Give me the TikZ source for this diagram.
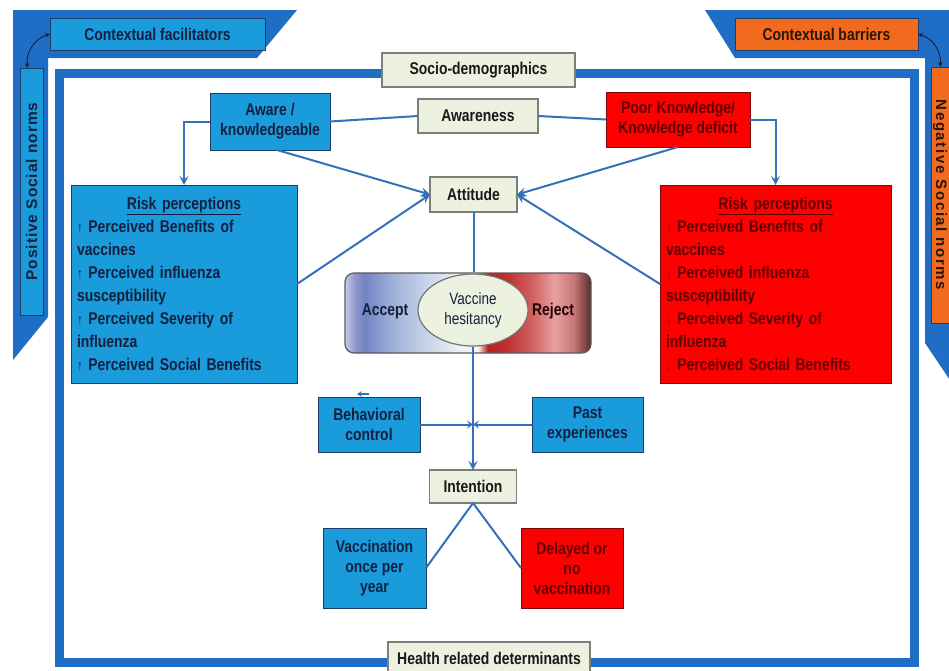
\documentclass[tikz,border=0pt]{standalone}
\usepackage{fontspec}
\setmainfont{Liberation Sans}
\newfontfamily\cond{Liberation Sans}[FakeStretch=0.82]
\newfontfamily\posfont{Liberation Sans}[LetterSpace=6]
\newfontfamily\negfont{Liberation Sans}[LetterSpace=11]
\usetikzlibrary{arrows.meta,calc,shapes.geometric}
\definecolor{frameblue}{HTML}{1F6DC5}
\definecolor{boxblue}{HTML}{1A9BDB}
\definecolor{boxedge}{HTML}{1D3C68}
\definecolor{lgreen}{HTML}{ECF1E0}
\definecolor{lgedge}{HTML}{7A7F78}
\definecolor{boxred}{HTML}{FF0000}
\definecolor{rededge}{HTML}{7A0A0A}
\definecolor{redtxt}{HTML}{5E0000}
\definecolor{redarr}{HTML}{B00000}
\definecolor{orangebox}{HTML}{F26A1E}
\definecolor{orangetxt}{HTML}{2B1606}
\definecolor{navy}{HTML}{13213F}
\definecolor{linkblue}{HTML}{3471B8}
\definecolor{ga}{HTML}{C5CCE6}
\definecolor{gb}{HTML}{8F98CC}
\definecolor{gc}{HTML}{7382C2}
\definecolor{gd}{HTML}{8A9CD0}
\definecolor{ge}{HTML}{A8B8DC}
\definecolor{gf}{HTML}{CBD6EA}
\definecolor{gg}{HTML}{ECEFF6}
\definecolor{gh}{HTML}{F8F4F4}
\definecolor{gi}{HTML}{B82020}
\definecolor{gj}{HTML}{C03030}
\definecolor{gk}{HTML}{D06060}
\definecolor{gl}{HTML}{E6A0A0}
\definecolor{gm}{HTML}{C87878}
\definecolor{gn}{HTML}{5A2A2A}
\pgfdeclarehorizontalshading{vhshade}{100bp}{color(0bp)=(ga); color(25bp)=(ga); color(27bp)=(gb); color(29bp)=(gc); color(32bp)=(gd); color(36bp)=(ge); color(42bp)=(gf); color(48bp)=(gg); color(52bp)=(gh); color(54bp)=(gi); color(58bp)=(gj); color(63bp)=(gk); color(67.5bp)=(gl); color(71.5bp)=(gm); color(75bp)=(gn); color(100bp)=(gn)}
\newcommand\uparr{{\fontsize{14}{14}\selectfont\mdseries\color{navy}↑}}
\newcommand\downarr{{\fontsize{14}{14}\selectfont\mdseries\color{redarr}↓}}
\begin{document}
\begin{tikzpicture}[x=1pt,y=-1pt,
  boxfont/.style={font=\cond\bfseries\fontsize{17}{20}\selectfont},
  basebox/.style={boxfont, inner sep=0pt, outer sep=0pt, align=center, line width=0.8pt},
  bluebox/.style={basebox, draw=boxedge, fill=boxblue, text=navy},
  redbox/.style={basebox, draw=rededge, fill=boxred, text=redtxt},
  orangebox/.style={basebox, draw=boxedge, fill=orangebox, text=orangetxt},
  greenbox/.style={basebox, draw=lgedge, fill=lgreen, text=black!90, line width=1.2pt},
  riskbox/.style={font=\cond\bfseries\fontsize{17}{23}\selectfont, inner xsep=6pt, inner ysep=0pt, outer sep=0pt, align=left, line width=0.8pt, minimum height=198pt},
  link/.style={draw=linkblue, line width=2pt},
  arr/.style={link, -{Stealth[length=9pt,width=9pt,inset=3.5pt]}},
  smallarr/.style={link, line width=2pt, -{Stealth[length=6pt,width=8pt,inset=2.5pt]}},
  curvy/.style={draw=navy, line width=0.9pt, {Stealth[length=5pt,width=4.5pt]}-{Stealth[length=5pt,width=4.5pt]}}
]
\useasboundingbox (0,0) rectangle (949,670);
% outer L shapes
\fill[frameblue] (13,10) -- (297,10) -- (257,58) -- (48,58) -- (48,317) -- (13,360) -- cycle;
\fill[frameblue] (705,10) -- (960,10) -- (960,395) -- (925,343) -- (925,58) -- (735,58) -- cycle;
\node[bluebox, minimum width=215pt, minimum height=32pt] (fac) at (157.5,34) {Contextual facilitators};
\node[bluebox, minimum width=247pt, minimum height=23pt, rotate=90, font=\posfont\bfseries\fontsize{15.5}{18}\selectfont] (pos) at (31.5,191.5) {Positive Social norms};
\node[orangebox, minimum width=183pt, minimum height=32pt] (bar) at (826.5,34) {Contextual barriers};
\node[orangebox, minimum width=256pt, minimum height=18pt, rotate=-90, font=\negfont\bfseries\fontsize{15}{17}\selectfont] (neg) at (940,195) {Negative Social norms};
\draw[curvy] (fac.west) to[bend right=40] ($(pos.east)+(-4,0)$);
\draw[curvy] (bar.east) to[bend left=40] (neg.west);
% inner frame
\draw[frameblue, line width=9pt] (59,73) rectangle (914,662);
% nodes
\node[greenbox, minimum width=193pt, minimum height=34pt] (socio) at (478.5,70) {Socio-demographics};
\node[greenbox, minimum width=120pt, minimum height=34pt] (awareness) at (478,116) {Awareness};
\node[bluebox, minimum width=120pt, minimum height=57pt] (aware) at (270,121.5) {Aware /\\knowledgeable};
\node[redbox, minimum width=144pt, minimum height=55pt] (poor) at (678,119.5) {Poor Knowledge/\\Knowledge deficit};
\node[greenbox, minimum width=87pt, minimum height=35pt] (attitude) at (473.5,194.5) {Attitude};
\node[riskbox, draw=boxedge, fill=boxblue, text=navy, text width=214pt] (riskL) at (184,284)
 {\makebox[214pt]{\underline{Risk perceptions}}\\
  \uparr\ Perceived Benefits of\\
  vaccines\\
  \uparr\ Perceived influenza\\
  susceptibility\\
  \uparr\ Perceived Severity of\\
  influenza\\
  \uparr\ Perceived Social Benefits};
\node[riskbox, draw=rededge, fill=boxred, text=redtxt, text width=219pt] (riskR) at (775.5,284)
 {\makebox[219pt]{\underline{Risk perceptions}}\\
  \downarr\ Perceived Benefits of\\
  vaccines\\
  \downarr\ Perceived influenza\\
  susceptibility\\
  \downarr\ Perceived Severity of\\
  influenza\\
  \downarr\ Perceived Social Benefits};
\node[shade, shading=vhshade, draw=black!65, line width=1.2pt, rounded corners=9pt, minimum width=246pt, minimum height=80pt, inner sep=0pt] (vh) at (468,313) {};
\node[boxfont, text=navy] (accept) at (385,311) {Accept};
\node[boxfont, text=black!85!red] (reject) at (553,311) {Reject};
\node[ellipse, draw=black!55, line width=1.2pt, fill=lgreen, minimum width=110pt, minimum height=72pt, inner sep=0pt, align=center, font=\cond\fontsize{16.5}{20}\selectfont, text=navy] (ell) at (473,310) {Vaccine\\hesitancy};
\node[bluebox, minimum width=102pt, minimum height=55pt] (beh) at (369,424.5) {Behavioral\\control};
\node[bluebox, minimum width=111pt, minimum height=55pt] (past) at (587.5,424.5) {Past\\experiences};
\node[greenbox, minimum width=87pt, minimum height=33pt] (intention) at (473,486.5) {Intention};
\node[bluebox, minimum width=103pt, minimum height=80pt] (vacc) at (374.5,568) {Vaccination\\once per\\year};
\node[redbox, minimum width=102pt, minimum height=80pt] (del) at (572,568) {Delayed or\\no\\vaccination};
\node[greenbox, minimum width=202pt, minimum height=32pt] (health) at (489,658) {Health related determinants};
\coordinate (j) at (473,424.5);
\coordinate (ta1) at (369,394);
\coordinate (ta2) at (357,394);
% connectors
\draw[link] (aware.east) -- (awareness.west);
\draw[link] (awareness.east) -- (poor.west);
\draw[arr] (aware.west) -| (riskL.north);
\draw[arr] (poor.east) -| (riskR.north);
\draw[arr] ($(aware.south)+(7,0)$) -- (attitude.west);
\draw[arr] (riskL.east) -- (attitude.west);
\draw[arr] (poor.south) -- (attitude.east);
\draw[arr] (riskR.west) -- (attitude.east);
\draw[link] (attitude.south) -- (attitude.south |- vh.north);
\draw[arr] (ell.south) -- (intention.north);
\draw[smallarr] (beh.east) -- (j);
\draw[smallarr] (past.west) -- (j);
\draw[link, line width=1.2pt, -{Stealth[length=5pt,width=6pt,inset=2pt]}] (ta1) -- (ta2);
\draw[link] (intention.south) -- (vacc.east);
\draw[link] (intention.south) -- (del.west);
\end{tikzpicture}
\end{document}
